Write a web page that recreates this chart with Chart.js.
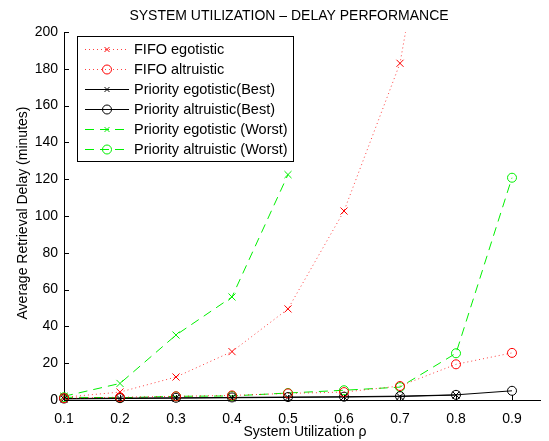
<!DOCTYPE html>
<html>
<head>
<meta charset="utf-8">
<title>System Utilization - Delay Performance</title>
<script src="https://cdn.jsdelivr.net/npm/chart.js@4.4.0/dist/chart.umd.min.js"></script>
<style>
    html, body { margin: 0; padding: 0; background: #fff; }
    canvas { display: block; }
</style>
</head>
<body>
<canvas id="delayChart" width="549" height="441"></canvas>
<script>
// --- DATA ---
const utilization = [0.1, 0.2, 0.3, 0.4, 0.5, 0.6, 0.7, 0.8, 0.9];
const fifoEgotistic = [1.5, 4.3, 12.5, 26.3, 49.5, 102.7, 183, 355, null];
const fifoAltruistic = [1, 1.5, 2, 2.5, 3.6, 4.3, 7.6, 19.4, 25.6];
const priorityEgoBest = [0.6, 0.8, 1, 1.2, 1.4, 1.6, 1.9, 2.7, null];
const priorityAltBest = [0.8, 1, 1.2, 1.4, 1.6, 1.8, 2.1, 2.8, 5];
const priorityEgoWorst = [2, 9, 35.3, 56, 122.5, null, null, null, null];
const priorityAltWorst = [1.5, 1.2, 2, 2.2, 3.8, 5.3, 7, 25.4, 120.8];
const yTicks = [0, 20, 40, 60, 80, 100, 120, 140, 160, 180, 200];
const xTicks = [0.1, 0.2, 0.3, 0.4, 0.5, 0.6, 0.7, 0.8, 0.9];

const FONT = '"Liberation Sans", Arial, Helvetica, sans-serif';
const RED = '#ff0000';
const GREEN = '#00f000';

function series(label, values, color, lineColor, dash, style) {
    return {
        label,
        data: utilization.map((u, i) => ({ x: u, y: values[i] })),
        borderColor: lineColor,
        borderWidth: 1,
        borderDash: dash,
        pointStyle: style,
        pointRadius: style === 'circle' ? 4.5 : 5,
        pointBorderColor: color,
        pointBackgroundColor: 'rgba(0,0,0,0)',
        pointBorderWidth: 1,
        tension: 0,
        spanGaps: false,
        clip: { left: 10, right: 10, top: 0, bottom: 10 }
    };
}

const datasets = [
    series('FIFO egotistic', fifoEgotistic, RED, 'rgba(255,0,0,0.75)', [1, 3], 'crossRot'),
    series('FIFO altruistic', fifoAltruistic, RED, 'rgba(255,0,0,0.75)', [1, 3], 'circle'),
    series('Priority egotistic(Best)', priorityEgoBest, '#000', '#000', [], 'crossRot'),
    series('Priority altruistic(Best)', priorityAltBest, '#000', '#000', [], 'circle'),
    series('Priority egotistic (Worst)', priorityEgoWorst, GREEN, GREEN, [9, 6], 'crossRot'),
    series('Priority altruistic (Worst)', priorityAltWorst, GREEN, GREEN, [9, 6], 'circle')
];

// --- DECORATION: title, axis labels, inward ticks, legend box ---
const matlabDecor = {
    id: 'matlabDecor',
    afterDraw(chart) {
        const { ctx, chartArea: a, scales: { x, y } } = chart;
        ctx.save();

        // inward ticks
        ctx.strokeStyle = '#000';
        ctx.lineWidth = 1;
        ctx.setLineDash([]);
        ctx.beginPath();
        xTicks.forEach(v => {
            const px = Math.round(x.getPixelForValue(v)) + 0.5;
            ctx.moveTo(px, a.bottom);
            ctx.lineTo(px, a.bottom - 5);
        });
        yTicks.forEach(v => {
            const py = Math.round(y.getPixelForValue(v)) + 0.5;
            ctx.moveTo(a.left, py);
            ctx.lineTo(a.left + 5, py);
        });
        ctx.stroke();

        // titles
        ctx.fillStyle = '#000';
        ctx.font = '14px ' + FONT;
        ctx.textAlign = 'center';
        ctx.textBaseline = 'middle';
        ctx.fillText('SYSTEM UTILIZATION \u2013 DELAY PERFORMANCE', 289, 16);
        ctx.fillText('System Utilization \u03c1', 305, 432);
        ctx.save();
        ctx.translate(23, 213);
        ctx.rotate(-Math.PI / 2);
        ctx.fillText('Average Retrieval Delay (minutes)', 0, 0);
        ctx.restore();

        // legend
        const box = { left: 77.5, top: 36.5, width: 216, height: 125 };
        ctx.fillStyle = '#fff';
        ctx.fillRect(box.left, box.top, box.width, box.height);
        ctx.strokeStyle = '#000';
        ctx.strokeRect(box.left, box.top, box.width, box.height);

        ctx.textAlign = 'left';
        ctx.font = '14.5px ' + FONT;
        chart.data.datasets.forEach((ds, i) => {
            const rowY = 49 + i * 20;
            ctx.strokeStyle = ds.borderColor;
            ctx.setLineDash(ds.borderDash);
            ctx.beginPath();
            ctx.moveTo(85, rowY + 0.5);
            ctx.lineTo(129, rowY + 0.5);
            ctx.stroke();
            ctx.setLineDash([]);
            ctx.strokeStyle = ds.pointBorderColor;
            ctx.fillStyle = 'rgba(0,0,0,0)';
            Chart.helpers.drawPoint(ctx, {
                pointStyle: ds.pointStyle,
                radius: ds.pointStyle === 'circle' ? 4.5 : 3.5,
                rotation: 0,
                borderWidth: 1
            }, 107, rowY + 0.5);
            ctx.fillStyle = '#000';
            ctx.fillText(ds.label, 134, rowY + 1);
        });
        ctx.restore();
    }
};

// --- CHART ---
new Chart(document.getElementById('delayChart'), {
    type: 'line',
    data: { datasets },
    options: {
        responsive: false,
        animation: false,
        events: [],
        layout: { padding: { left: 0, top: 32, right: 9, bottom: 0 } },
        plugins: { legend: { display: false }, title: { display: false }, tooltip: { enabled: false } },
        scales: {
            x: {
                type: 'linear',
                min: 0.1,
                max: 0.95,
                grid: { display: false, drawTicks: false },
                border: { display: true, color: '#000', width: 1 },
                afterFit: s => { s.height = 41; },
                afterBuildTicks: s => { s.ticks = xTicks.map(v => ({ value: v })); },
                ticks: {
                    color: '#000',
                    padding: 8,
                    maxRotation: 0,
                    autoSkip: false,
                    font: { family: FONT, size: 14, lineHeight: 1.6 },
                    callback: v => v.toFixed(1)
                }
            },
            y: {
                type: 'linear',
                min: 0,
                max: 200,
                grid: { display: false, drawTicks: false },
                border: { display: true, color: '#000', width: 1 },
                afterFit: s => { s.width = 64; },
                afterBuildTicks: s => { s.ticks = yTicks.map(v => ({ value: v })); },
                ticks: {
                    color: '#000',
                    padding: 6,
                    autoSkip: false,
                    font: { family: FONT, size: 14 },
                    callback: v => String(v)
                }
            }
        }
    },
    plugins: [matlabDecor]
});
</script>
</body>
</html>
